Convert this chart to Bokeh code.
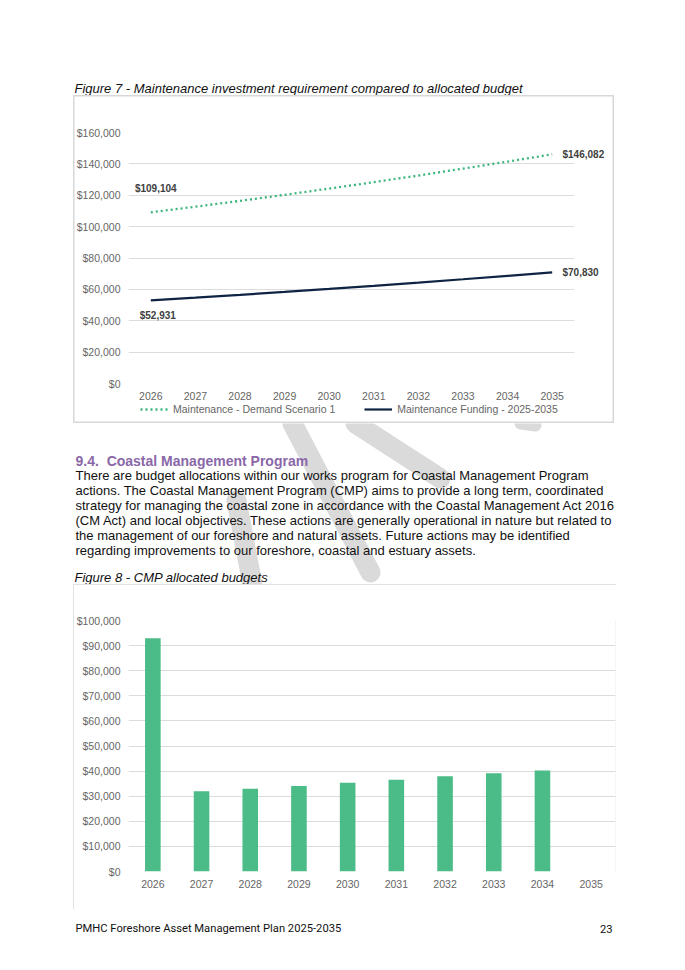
from bokeh.plotting import figure
from bokeh.models import (ColumnDataSource, Range1d, FactorRange, LabelSet, Legend,
                          LegendItem, Spacer, NumeralTickFormatter, FixedTicker, LinearAxis)
from bokeh.layouts import column, row
from bokeh.core.properties import value
from bokeh.embed import file_html
from bokeh.resources import INLINE

# ---------------- data ----------------
years = ["2026", "2027", "2028", "2029", "2030", "2031", "2032", "2033", "2034", "2035"]
demand = [109104, 112700, 116420, 120270, 124240, 128340, 132570, 136950, 141460, 146082]
funding = [52931, 54680, 56490, 58350, 60280, 62270, 64320, 66440, 68630, 70830]
cmp_budget = [92900, 32000, 33000, 34100, 35400, 36600, 37900, 39100, 40200, 0]
y1_ticks = [0, 20000, 40000, 60000, 80000, 100000, 120000, 140000, 160000]
y2_ticks = [0, 10000, 20000, 30000, 40000, 50000, 60000, 70000, 80000, 90000, 100000]

series1_name = "Maintenance - Demand Scenario 1"
series2_name = "Maintenance Funding - 2025-2035"
caption7 = "Figure 7 - Maintenance investment requirement compared to allocated budget"
caption8 = "Figure 8 - CMP allocated budgets"
heading = "9.4.\u00a0\u00a0Coastal Management Program"
body_lines = [
    "There are budget allocations within our works program for Coastal Management Program",
    "actions. The Coastal Management Program (CMP) aims to provide a long term, coordinated",
    "strategy for managing the coastal zone in accordance with the Coastal Management Act 2016",
    "(CM Act) and local objectives. These actions are generally operational in nature but related to",
    "the management of our foreshore and natural assets. Future actions may be identified",
    "regarding improvements to our foreshore, coastal and estuary assets.",
]
footer_left = "PMHC Foreshore Asset Management Plan 2025-2035"
footer_right = "23"

FONT = "Liberation Sans"
TICK_COLOR = "#666666"
GRID_COLOR = "#dcdcdc"
GREEN_LINE = "#3cb67c"
NAVY = "#0f2443"
BAR_GREEN = "#4bbb87"
LABEL_COLOR = "#404040"
BC = "#d8d8d8"
BOX_STYLE = {"outline": "1.5px solid " + BC, "outline-offset": "-1.5px"}
TOP_BOX = {"box-shadow": f"inset 1.5px 0 0 0 {BC}, inset -1.5px 0 0 0 {BC}, inset 0 1.5px 0 0 {BC}"}
BOTTOM_BOX = {"box-shadow": f"inset 1.5px 0 0 0 {BC}, inset -1.5px 0 0 0 {BC}, inset 0 -1.5px 0 0 {BC}"}
PAGE_W = 669


def page_fig(h):
    f = figure(width=PAGE_W, height=h, x_range=Range1d(0, PAGE_W), y_range=Range1d(h, 0),
               min_border=0, output_backend="svg", toolbar_location=None,
               x_axis_type=None, y_axis_type=None)
    f.outline_line_color = None
    f.background_fill_color = "white"
    return f


def style_axes(fig, ticks):
    fig.yaxis.ticker = FixedTicker(ticks=ticks)
    fig.ygrid.ticker = FixedTicker(ticks=ticks)
    fig.yaxis.formatter = NumeralTickFormatter(format="$0,0")
    fig.ygrid.grid_line_color = GRID_COLOR
    fig.ygrid.grid_line_width = 1
    fig.xgrid.grid_line_color = None
    for ax in (fig.xaxis, fig.yaxis):
        ax.axis_line_color = None
        ax.major_tick_line_color = None
        ax.minor_tick_line_color = None
        ax.major_tick_out = 0
        ax.major_tick_in = 0
        ax.minor_tick_out = 0
        ax.minor_tick_in = 0
        ax.major_label_text_font = FONT
        ax.major_label_text_font_size = "10.5px"
        ax.major_label_text_color = TICK_COLOR
    fig.yaxis.major_label_standoff = 8
    fig.xaxis.major_label_standoff = 8
    fig.outline_line_color = None


# ---------------- section A: caption 7 ----------------
HA = 87
secA = page_fig(HA)
secA.text(x=[66], y=[80], text=[caption7], text_font=value(FONT), text_font_size="13px",
          text_font_style="italic", text_baseline="middle", text_color="#111111")

# ---------------- chart 1 ----------------
W1, H1, HL = 541, 308, 20
c1 = figure(x_range=FactorRange(*years), y_range=Range1d(0, 160000), width=W1, height=H1,
            min_border_left=55, min_border_right=40, min_border_top=37, min_border_bottom=20,
            output_backend="svg", toolbar_location=None)
c1.styles = TOP_BOX
c1.border_fill_alpha = 0
c1.background_fill_alpha = 0
style_axes(c1, y1_ticks)
src1 = ColumnDataSource(dict(year=years, demand=demand, funding=funding))
dem_style = dict(line_color=GREEN_LINE, line_width=2.3, line_dash="2 3")
fun_style = dict(line_color=NAVY, line_width=2.2)
c1.line(x="year", y="demand", source=src1, **dem_style)
c1.line(x="year", y="funding", source=src1, **fun_style)

# first-year data labels (inside the plot area)
lab_first_dem = ColumnDataSource(dict(x=[years[0]], y=[demand[0]], t=[f"${demand[0]:,}"]))
lab_first_fun = ColumnDataSource(dict(x=[years[0]], y=[funding[0]], t=[f"${funding[0]:,}"]))
common = dict(text="t", x="x", y="y", text_font=value(FONT), text_font_size="10px",
              text_font_style="bold", text_color=LABEL_COLOR, text_baseline="middle")
c1.add_layout(LabelSet(source=lab_first_dem, x_offset=5, y_offset=24, text_align="center", **common))
c1.add_layout(LabelSet(source=lab_first_fun, x_offset=7, y_offset=-15.5, text_align="center", **common))

# last-year data labels (right of the plot area) via an axis on the right
end_axis = LinearAxis(ticker=FixedTicker(ticks=[demand[-1], funding[-1]]),
                      formatter=NumeralTickFormatter(format="$0,0"),
                      axis_line_color=None, major_tick_line_color=None,
                      minor_tick_line_color=None, major_tick_out=0, major_tick_in=0,
                      minor_tick_out=0, minor_tick_in=0, major_label_standoff=-12,
                      major_label_text_font=FONT, major_label_text_font_size="10px",
                      major_label_text_font_style="bold", major_label_text_color=LABEL_COLOR)
c1.add_layout(end_axis, "right")

# legend strip (bottom of the chart-1 box)
legfig = figure(width=W1, height=HL, x_range=Range1d(0, 1), y_range=Range1d(0, 1),
                min_border_left=55, min_border_right=40, min_border_top=0, min_border_bottom=0,
                output_backend="svg", toolbar_location=None, x_axis_type=None, y_axis_type=None)
legfig.styles = BOTTOM_BOX
legfig.border_fill_alpha = 0
legfig.background_fill_alpha = 0
legfig.outline_line_color = None
# swatch-only renderers: a single point outside the strip's visible range
leg_src = ColumnDataSource(dict(x=[-5], y=[-5]))
g_dem = legfig.line(x="x", y="y", source=leg_src, **dem_style)
g_fun = legfig.line(x="x", y="y", source=leg_src, **fun_style)
legend = Legend(items=[LegendItem(label=series1_name, renderers=[g_dem]),
                       LegendItem(label=series2_name, renderers=[g_fun])],
                orientation="horizontal", location=(12, 8), spacing=29, glyph_width=28,
                glyph_height=12, label_height=12, label_standoff=5, padding=0, margin=0,
                border_line_color=None, background_fill_alpha=0,
                label_text_font=FONT, label_text_font_size="10.5px", label_text_color=TICK_COLOR)
legfig.add_layout(legend, "center")

# ---------------- section B: text ----------------
HB = 161
secB = page_fig(HB)
# faint watermark strokes
secB.multi_line(xs=[[284, 362], [347, 432], [228, 244]], ys=[[0, 149], [0, 55], [77, 161]],
                line_color="#dadada", line_width=20, line_cap="round")
secB.multi_line(xs=[[512, 527]], ys=[[0, 2]], line_color="#dadada", line_width=12, line_cap="round")
secB.text(x=[67], y=[37.3], text=[heading], text_font=value(FONT), text_font_size="14px",
          text_font_style="bold", text_baseline="middle", text_color="#8a68a8")
secB.text(x=[67] * len(body_lines), y=[52 + 14.9 * i for i in range(len(body_lines))],
          text=body_lines, text_font=value(FONT), text_font_size="13px",
          text_baseline="middle", text_color="#111111")
secB.text(x=[66], y=[154], text=[caption8], text_font=value(FONT), text_font_size="13px",
          text_font_style="italic", text_baseline="middle", text_color="#111111")

# ---------------- chart 2 ----------------
W2, H2 = 543, 325
c2 = figure(x_range=FactorRange(*years), y_range=Range1d(0, 100000), width=W2, height=H2,
            min_border_left=55, min_border_right=1, min_border_top=36, min_border_bottom=38,
            output_backend="svg", toolbar_location=None)
c2.styles = BOX_STYLE
style_axes(c2, y2_ticks)
src2 = ColumnDataSource(dict(year=years, budget=cmp_budget))
c2.vbar(x="year", top="budget", source=src2, width=0.32, fill_color=BAR_GREEN,
        line_color=None)

# ---------------- footer ----------------
HF = 53
secF = page_fig(HF)
secF.text(x=[67], y=[19], text=[footer_left], text_font=value("Roboto"), text_font_size="11.2px",
          text_baseline="middle", text_color="#111111")
secF.text(x=[604], y=[19], text=[footer_right], text_font=value("Roboto"), text_font_size="11.2px",
          text_baseline="middle", text_align="right", text_color="#111111")

page = column(Spacer(width=PAGE_W, height=8),
              secA,
              row(Spacer(width=65, height=H1 + HL), column(c1, legfig)),
              secB,
              row(Spacer(width=65, height=H2), c2),
              secF)
layout = row(Spacer(width=8, height=962), page)

open("out.html", "w").write(file_html(layout, INLINE))
